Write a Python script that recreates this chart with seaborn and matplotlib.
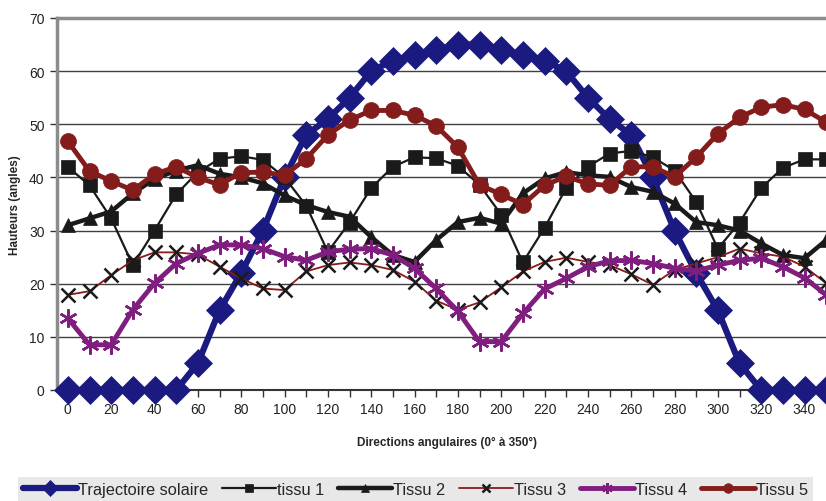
import numpy as np
import pandas as pd
import matplotlib
matplotlib.use("Agg")
import matplotlib.pyplot as plt
import seaborn as sns

# ----------------------------------------------------------
# Données
# ----------------------------------------------------------
directions = list(range(0, 360, 10))

solaire = [0, 0, 0, 0, 0, 0, 5, 15, 22, 30, 40, 48, 51, 55, 60, 62, 63, 64,
           65, 65, 64, 63, 62, 60, 55, 51, 48, 40, 30, 22, 15, 5, 0, 0, 0, 0]
tissu1 = [42, 38.5, 32.3, 23.5, 30, 36.8, 41, 43.5, 44, 43.3, 40, 34.7, 26, 31.5,
          38, 42, 43.8, 43.6, 42.2, 38.6, 33, 24, 30.5, 38, 42, 44.5, 45, 43.8,
          41.3, 35.4, 26.6, 31.5, 38, 41.8, 43.4, 43.4]
tissu2 = [31, 32.3, 33.6, 37, 39.7, 41.3, 42.3, 40.7, 40, 38.9, 36.6, 34.8, 33.5,
          32.6, 28.8, 25.4, 24.1, 28.2, 31.6, 32.4, 31.3, 37, 39.8, 41, 40.4, 40.1,
          38.2, 37.3, 35.1, 31.6, 31, 30, 27.6, 25.4, 24.8, 28.2]
tissu3 = [17.9, 18.6, 21.6, 24.4, 25.9, 25.9, 25.5, 23.2, 21, 19.1, 18.8, 22.3,
          23.5, 24, 23.5, 22.6, 20.4, 16.8, 15.1, 16.5, 19.3, 22.3, 24.1, 24.9,
          24.1, 23.5, 21.8, 19.8, 22.6, 23.8, 25, 26.6, 25.7, 25.1, 23.2, 20.1]
tissu4 = [13.5, 8.5, 8.5, 15.1, 20.1, 23.8, 25.7, 27.3, 27.3, 26.6, 25.1, 24.4,
          26, 26.5, 26.6, 25.4, 22.9, 19.1, 14.8, 9.1, 9.1, 14.4, 19, 21, 23.2,
          24.3, 24.4, 23.8, 22.9, 22.4, 23.5, 24.4, 24.8, 23.2, 21.1, 17.9]
tissu5 = [46.8, 41.2, 39.3, 37.6, 40.6, 42, 40, 38.6, 40.9, 41, 40.4, 43.5, 48,
          50.8, 52.6, 52.6, 51.7, 49.7, 45.7, 38.6, 36.8, 34.9, 38.5, 40.2, 38.8,
          38.5, 42, 42, 40.1, 43.8, 48.2, 51.3, 53.2, 53.7, 52.8, 50.4]

noms = ["Trajectoire solaire", "tissu 1", "Tissu 2", "Tissu 3", "Tissu 4", "Tissu 5"]

df = pd.DataFrame({"direction": directions, noms[0]: solaire, noms[1]: tissu1,
                   noms[2]: tissu2, noms[3]: tissu3, noms[4]: tissu4, noms[5]: tissu5})

# style de chaque série
styles = {
    noms[0]: dict(color="#1b1a80", linewidth=4.5, marker="D", markersize=14,
                  markerfacecolor="#1b1a80", markeredgecolor="#1b1a80", markeredgewidth=0.5),
    noms[1]: dict(color="#1a1a1a", linewidth=1.6, marker="s", markersize=10.5,
                  markerfacecolor="#1a1a1a", markeredgecolor="#1a1a1a", markeredgewidth=0.5),
    noms[2]: dict(color="#1a1a1a", linewidth=3.2, marker="^", markersize=10.5,
                  markerfacecolor="#1a1a1a", markeredgecolor="#1a1a1a", markeredgewidth=0.5),
    noms[3]: dict(color="#8b1a1a", linewidth=1.3, marker="x", markersize=10,
                  markerfacecolor="#1a1a1a", markeredgecolor="#1a1a1a", markeredgewidth=1.8),
    noms[4]: dict(color="#801e80", linewidth=3.5, marker=(6, 2, 0), markersize=13,
                  markerfacecolor="#801e80", markeredgecolor="#801e80", markeredgewidth=1.8),
    noms[5]: dict(color="#841c1c", linewidth=3.5, marker="o", markersize=11.5,
                  markerfacecolor="#841c1c", markeredgecolor="#841c1c", markeredgewidth=0.5),
}

# ----------------------------------------------------------
# Figure
# ----------------------------------------------------------
sns.set_theme(style="white")
plt.rcParams["font.family"] = ["Liberation Sans", "DejaVu Sans"]

fig = plt.figure(figsize=(8.26, 5.02), dpi=100)
ax = fig.add_axes([57 / 826, 111 / 502, 780 / 826, 372 / 502])

for i, nom in enumerate(noms):
    sns.lineplot(data=df, x="direction", y=nom, ax=ax, label=nom,
                 clip_on=False, zorder=3 + i, **styles[nom])

ax.set_xlim(-5, 355)
ax.set_ylim(0, 70)
ax.set_yticks(range(0, 71, 10))
ax.set_xticks(range(0, 341, 20))
ax.set_xticks(range(10, 351, 20), minor=True)
ax.tick_params(axis="both", which="both", direction="out", length=5, width=1,
               color="#333333", labelsize=10, labelcolor="#222222", pad=4)
ax.tick_params(axis="x", which="both", bottom=True)
ax.tick_params(axis="y", left=True)

ax.yaxis.grid(True, color="#404040", linewidth=1.0)
ax.set_axisbelow(True)

for side in ["left", "top"]:
    ax.spines[side].set_color("#8c8c8c")
    ax.spines[side].set_linewidth(2.5)
ax.spines["right"].set_visible(False)
ax.spines["bottom"].set_color("#333333")
ax.spines["bottom"].set_linewidth(1.5)

ax.set_xlabel("Directions angulaires (0° à 350°)", fontsize=8.5, fontweight="bold", labelpad=14)
ax.set_ylabel("Hauteurs (angles)", fontsize=8.5, fontweight="bold", labelpad=6)

if ax.get_legend() is not None:
    ax.get_legend().remove()

handles, labels = ax.get_legend_handles_labels()
leg = fig.legend(handles, labels, loc="lower center", bbox_to_anchor=(0.503, -0.012),
                 ncol=6, fontsize=11.8, frameon=True, fancybox=False,
                 facecolor="#e3e3e3", edgecolor="#e3e3e3", handlelength=3.3,
                 handletextpad=0.05, columnspacing=0.85, markerscale=0.6,
                 borderpad=0.3, borderaxespad=0.3)
leg.get_frame().set_linewidth(0)

fig.savefig("out.png", dpi=100)
